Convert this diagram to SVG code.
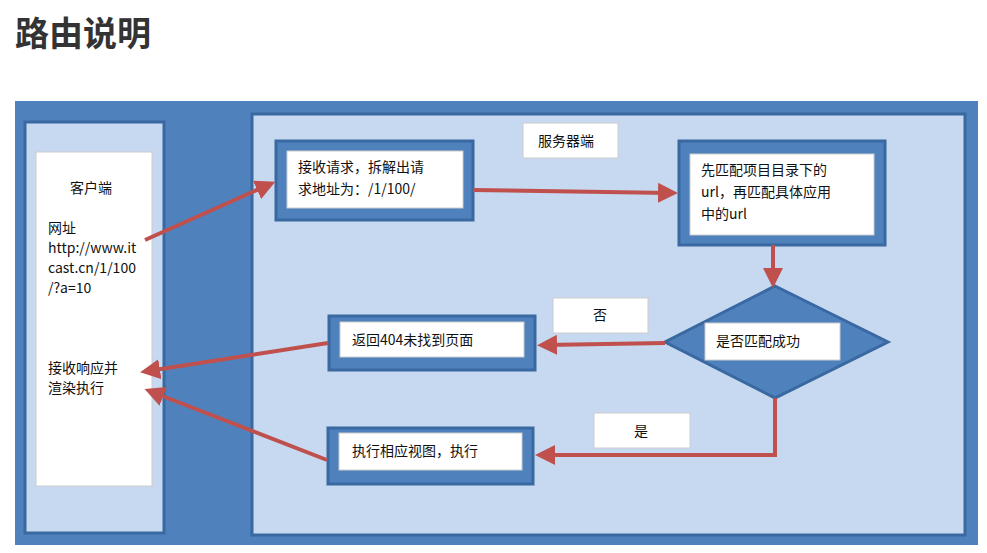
<svg xmlns="http://www.w3.org/2000/svg" width="987" height="553" viewBox="0 0 987 553">
<style>
text{font-family:"Noto Sans CJK SC","Open Sans",sans-serif;font-size:14px;fill:#111}
.dk{fill:#4f81bd;stroke:#3a68a0;stroke-width:3}
.lt{fill:#c6d9f0;stroke:#3a68a0;stroke-width:3}
.wh{fill:#fff;stroke:#ccc;stroke-width:1}
.ar{stroke:#c0504d;stroke-width:4;fill:none;marker-end:url(#m)}
</style>
<defs><marker id="m" markerWidth="5" markerHeight="5" refX="3" refY="2.5" orient="auto"><path d="M0,0L5,2.5L0,5z" fill="#c0504d"/></marker></defs>
<rect width="987" height="553" fill="#fff"/>
<text x="15" y="46" style="font-size:34px;font-weight:bold;fill:#333">路由说明</text>
<rect x="15" y="101" width="963" height="444" fill="#4f81bd"/>
<g id="client"><rect class="lt" x="25" y="122" width="139" height="411"/><rect class="wh" x="36" y="152" width="116" height="334"/>
<text x="70" y="193">客户端</text><text x="48" y="233">网址</text><text x="48" y="253">http://www.it</text><text x="48" y="273">cast.cn/1/100</text><text x="48" y="293">/?a=10</text>
<text x="48" y="373">接收响应并</text><text x="48" y="393">渲染执行</text></g>
<g id="server"><rect class="lt" x="252" y="114" width="713" height="421"/><rect class="wh" x="523" y="123" width="95" height="35"/><text x="538" y="146">服务器端</text></g>
<g id="recv"><rect class="dk" x="276" y="141" width="197" height="79"/><rect class="wh" x="287" y="151" width="176" height="57"/><text x="298" y="172">接收请求，拆解出请</text><text x="298" y="194">求地址为：/1/100/</text></g>
<g id="match"><rect class="dk" x="679" y="141" width="206" height="104"/><rect class="wh" x="690" y="154" width="184" height="81"/><text x="701" y="175">先匹配项目目录下的</text><text x="701" y="197">url，再匹配具体应用</text><text x="701" y="219">中的url</text></g>
<g id="decide"><path class="dk" d="M775,286L888,342L775,398L665,342z"/><rect class="wh" x="705" y="323" width="135" height="37"/><text x="716" y="346">是否匹配成功</text></g>
<g id="no"><rect class="wh" x="553" y="298" width="95" height="35"/><text x="593" y="320">否</text></g>
<g id="yes"><rect class="wh" x="594" y="413" width="96" height="35"/><text x="634" y="436">是</text></g>
<g id="r404"><rect class="dk" x="329" y="316" width="206" height="54"/><rect class="wh" x="340" y="322" width="184" height="35"/><text x="352" y="345">返回404未找到页面</text></g>
<g id="exec"><rect class="dk" x="328" y="428" width="205" height="56"/><rect class="wh" x="339" y="433" width="183" height="37"/><text x="352" y="456">执行相应视图，执行</text></g>
<g id="connectors">
<path class="ar" d="M145,240L268,185"/>
<path class="ar" d="M473,190L670,193"/>
<path class="ar" d="M773,245L773,280"/>
<path class="ar" d="M665,343L545,345"/>
<path class="ar" d="M328,343L148,371"/>
<path class="ar" d="M775,398L775,455L543,455"/>
<path class="ar" d="M327,460L152,392"/>
</g>
</svg>
